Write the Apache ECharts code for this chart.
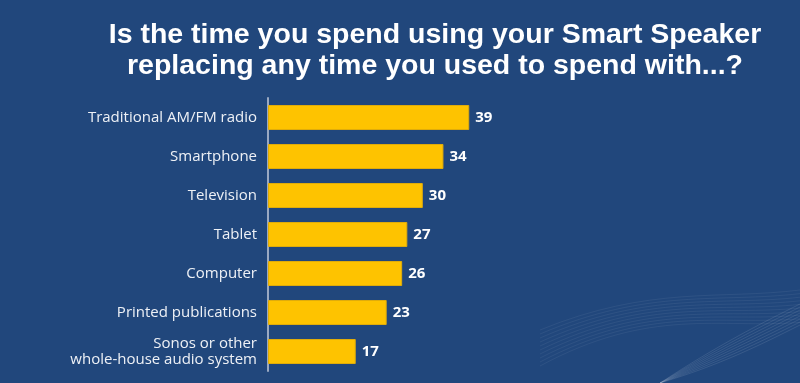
<!DOCTYPE html>
<html><head><meta charset="utf-8">
<script src="https://cdn.jsdelivr.net/npm/echarts@6/dist/echarts.min.js"></script>
<style>html,body{margin:0;padding:0;background:#21477c;}#c{width:800px;height:383px;}</style>
</head><body><div id="c"></div>
<script>
const categories = ["Traditional AM/FM radio","Smartphone","Television","Tablet","Computer","Printed publications","Sonos or other\nwhole-house audio system"];
const values = [39,34,30,27,26,23,17];
const titleText = "Is the time you spend using your Smart Speaker\nreplacing any time you used to spend with...?";

const chart = echarts.init(document.getElementById('c'), null, {renderer:'canvas'});
const waves = [];
for (let i = 0; i < 10; i++) {
  const o = i * 4;
  waves.push({type:'bezierCurve', silent:true, shape:{x1:540, y1:330 + o, cpx1:650, cpy1:285 + o*0.6, cpx2:720, cpy2:300 + o*0.8, x2:800, y2:290 + o*0.9},
    style:{stroke:'rgba(255,255,255,0.06)', lineWidth:1, fill:null}});
}
for (let i = 0; i < 8; i++) {
  const o = i * 3;
  waves.push({type:'bezierCurve', silent:true, shape:{x1:660, y1:383, cpx1:720, cpy1:365 - o, cpx2:760, cpy2:345 - o, x2:800, y2:325 - o},
    style:{stroke:'rgba(255,255,255,0.10)', lineWidth:1, fill:null}});
}
chart.setOption({
  backgroundColor:'#21477c',
  animation:false,
  title:{text:titleText, left:430, textAlign:'center', top:15,
    textStyle:{color:'#ffffff', fontSize:28.5, fontWeight:'bold', fontFamily:'Liberation Sans', lineHeight:31}},
  graphic: waves,
  grid:{left:268, top:98, width:258, height:273},
  xAxis:{type:'value', min:0, max:50, show:false},
  yAxis:{type:'category', data:categories, inverse:true,
    axisLine:{show:true, lineStyle:{color:'#9aa9c2', width:2}},
    axisTick:{show:false},
    axisLabel:{color:'#eef1f6', fontSize:15, fontFamily:'Open Sans', margin:11, lineHeight:16}},
  series:[{type:'bar', data:values, barWidth:25,
    itemStyle:{color:'#fec300', borderColor:'#e0ac0a', borderWidth:1},
    label:{show:true, position:'right', distance:6, color:'#ffffff', fontWeight:'bold', fontSize:15, fontFamily:'Open Sans'}}]
});
</script></body></html>
